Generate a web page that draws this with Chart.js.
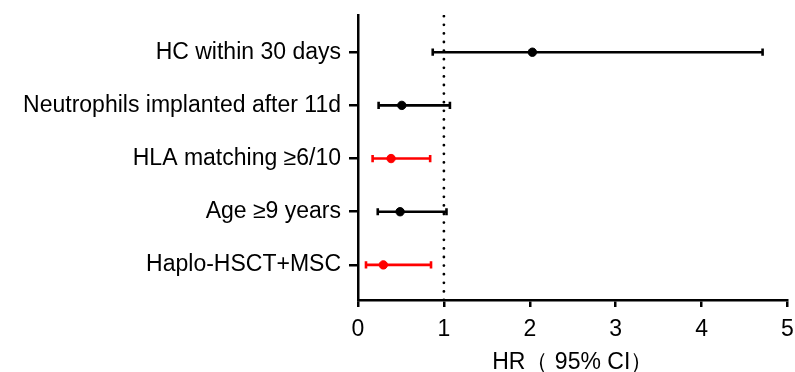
<!DOCTYPE html>
<html>
<head>
<meta charset="utf-8">
<script src="https://cdn.jsdelivr.net/npm/chart.js@4.4.1/dist/chart.umd.min.js"></script>
<style>
  body { margin: 0; background: #fff; }
  #wrap { width: 795px; height: 372px; }
</style>
</head>
<body>
<div id="wrap"><canvas id="chart"></canvas></div>
<script>
// forest plot data, top row first
let labels = ["HC within 30 days", "Neutrophils implanted after 11d", "HLA matching \u22656/10", "Age \u22659 years", "Haplo-HSCT+MSC"];
let hr = [2.03, 0.51, 0.385, 0.49, 0.295];
let lower = [0.87, 0.24, 0.17, 0.23, 0.093];
let upper = [4.71, 1.07, 0.84, 1.03, 0.85];
let significant = [false, false, true, false, true];
let xTicks = [0, 1, 2, 3, 4, 5];
let refValue = 1;
let xTitle = "HR\uFF08 95% CI\uFF09";

let yMin = 0.34;
let yMax = 5.7;
let font = "'Liberation Sans', Arial, sans-serif";

function rowY(i) {
  return labels.length - i;
}

let datasets = [];

// dotted reference line at HR = 1
datasets.push({
  type: "line",
  data: [{ x: refValue, y: yMin }, { x: refValue, y: yMax }],
  borderColor: "#000",
  borderWidth: 2.8,
  borderDash: [0, 8.6],
  borderCapStyle: "round",
  pointRadius: 0,
  order: 10
});

for (let i = 0; i < labels.length; i++) {
  let c = significant[i] ? "#ff0000" : "#000000";

  // CI whisker with end caps
  datasets.push({
    type: "line",
    data: [{ x: lower[i], y: rowY(i) }, { x: upper[i], y: rowY(i) }],
    borderColor: c,
    borderWidth: 2.6,
    pointStyle: "line",
    rotation: 90,
    pointRadius: 3.6,
    pointBorderWidth: 2.6,
    pointBorderColor: c,
    order: 5
  });

  // point estimate
  datasets.push({
    type: "scatter",
    data: [{ x: hr[i], y: rowY(i) }],
    backgroundColor: c,
    borderColor: c,
    pointRadius: 4.2,
    pointBorderWidth: 1,
    order: 1
  });
}

new Chart(document.getElementById("chart"), {
  type: "scatter",
  data: { datasets: datasets },
  options: {
    responsive: true,
    maintainAspectRatio: false,
    animation: false,
    layout: { padding: { top: 15, right: 7.5, left: 0, bottom: 0 } },
    plugins: {
      legend: { display: false },
      tooltip: { enabled: false }
    },
    scales: {
      x: {
        type: "linear",
        min: xTicks[0],
        max: xTicks[xTicks.length - 1],
        afterBuildTicks: function (scale) {
          scale.ticks = xTicks.map(function (v) { return { value: v }; });
        },
        afterFit: function (scale) {
          scale.height = 72;
          scale.paddingLeft = 0;
          scale.paddingRight = 0;
        },
        border: { color: "#000", width: 2.5 },
        grid: { drawOnChartArea: false, drawTicks: true, tickLength: 7, color: "#000", lineWidth: 2.5 },
        ticks: {
          color: "#000",
          padding: 9,
          font: { family: font, size: 23 }
        },
        title: {
          display: true,
          text: xTitle,
          color: "#000",
          padding: { top: 0, bottom: -4 },
          font: { family: font, size: 23 }
        }
      },
      y: {
        type: "linear",
        min: yMin,
        max: yMax,
        afterBuildTicks: function (scale) {
          scale.ticks = labels.map(function (l, i) { return { value: rowY(i) }; });
        },
        afterFit: function (scale) {
          scale.width = 358;
          scale.paddingTop = 0;
          scale.paddingBottom = 0;
        },
        border: { color: "#000", width: 2.5 },
        grid: { drawOnChartArea: false, drawTicks: true, tickLength: 9, color: "#000", lineWidth: 2.5 },
        ticks: {
          color: "#000",
          padding: 8,
          font: { family: font, size: 23 },
          callback: function (v) {
            return labels[labels.length - v];
          }
        }
      }
    }
  }
});
</script>
</body>
</html>
